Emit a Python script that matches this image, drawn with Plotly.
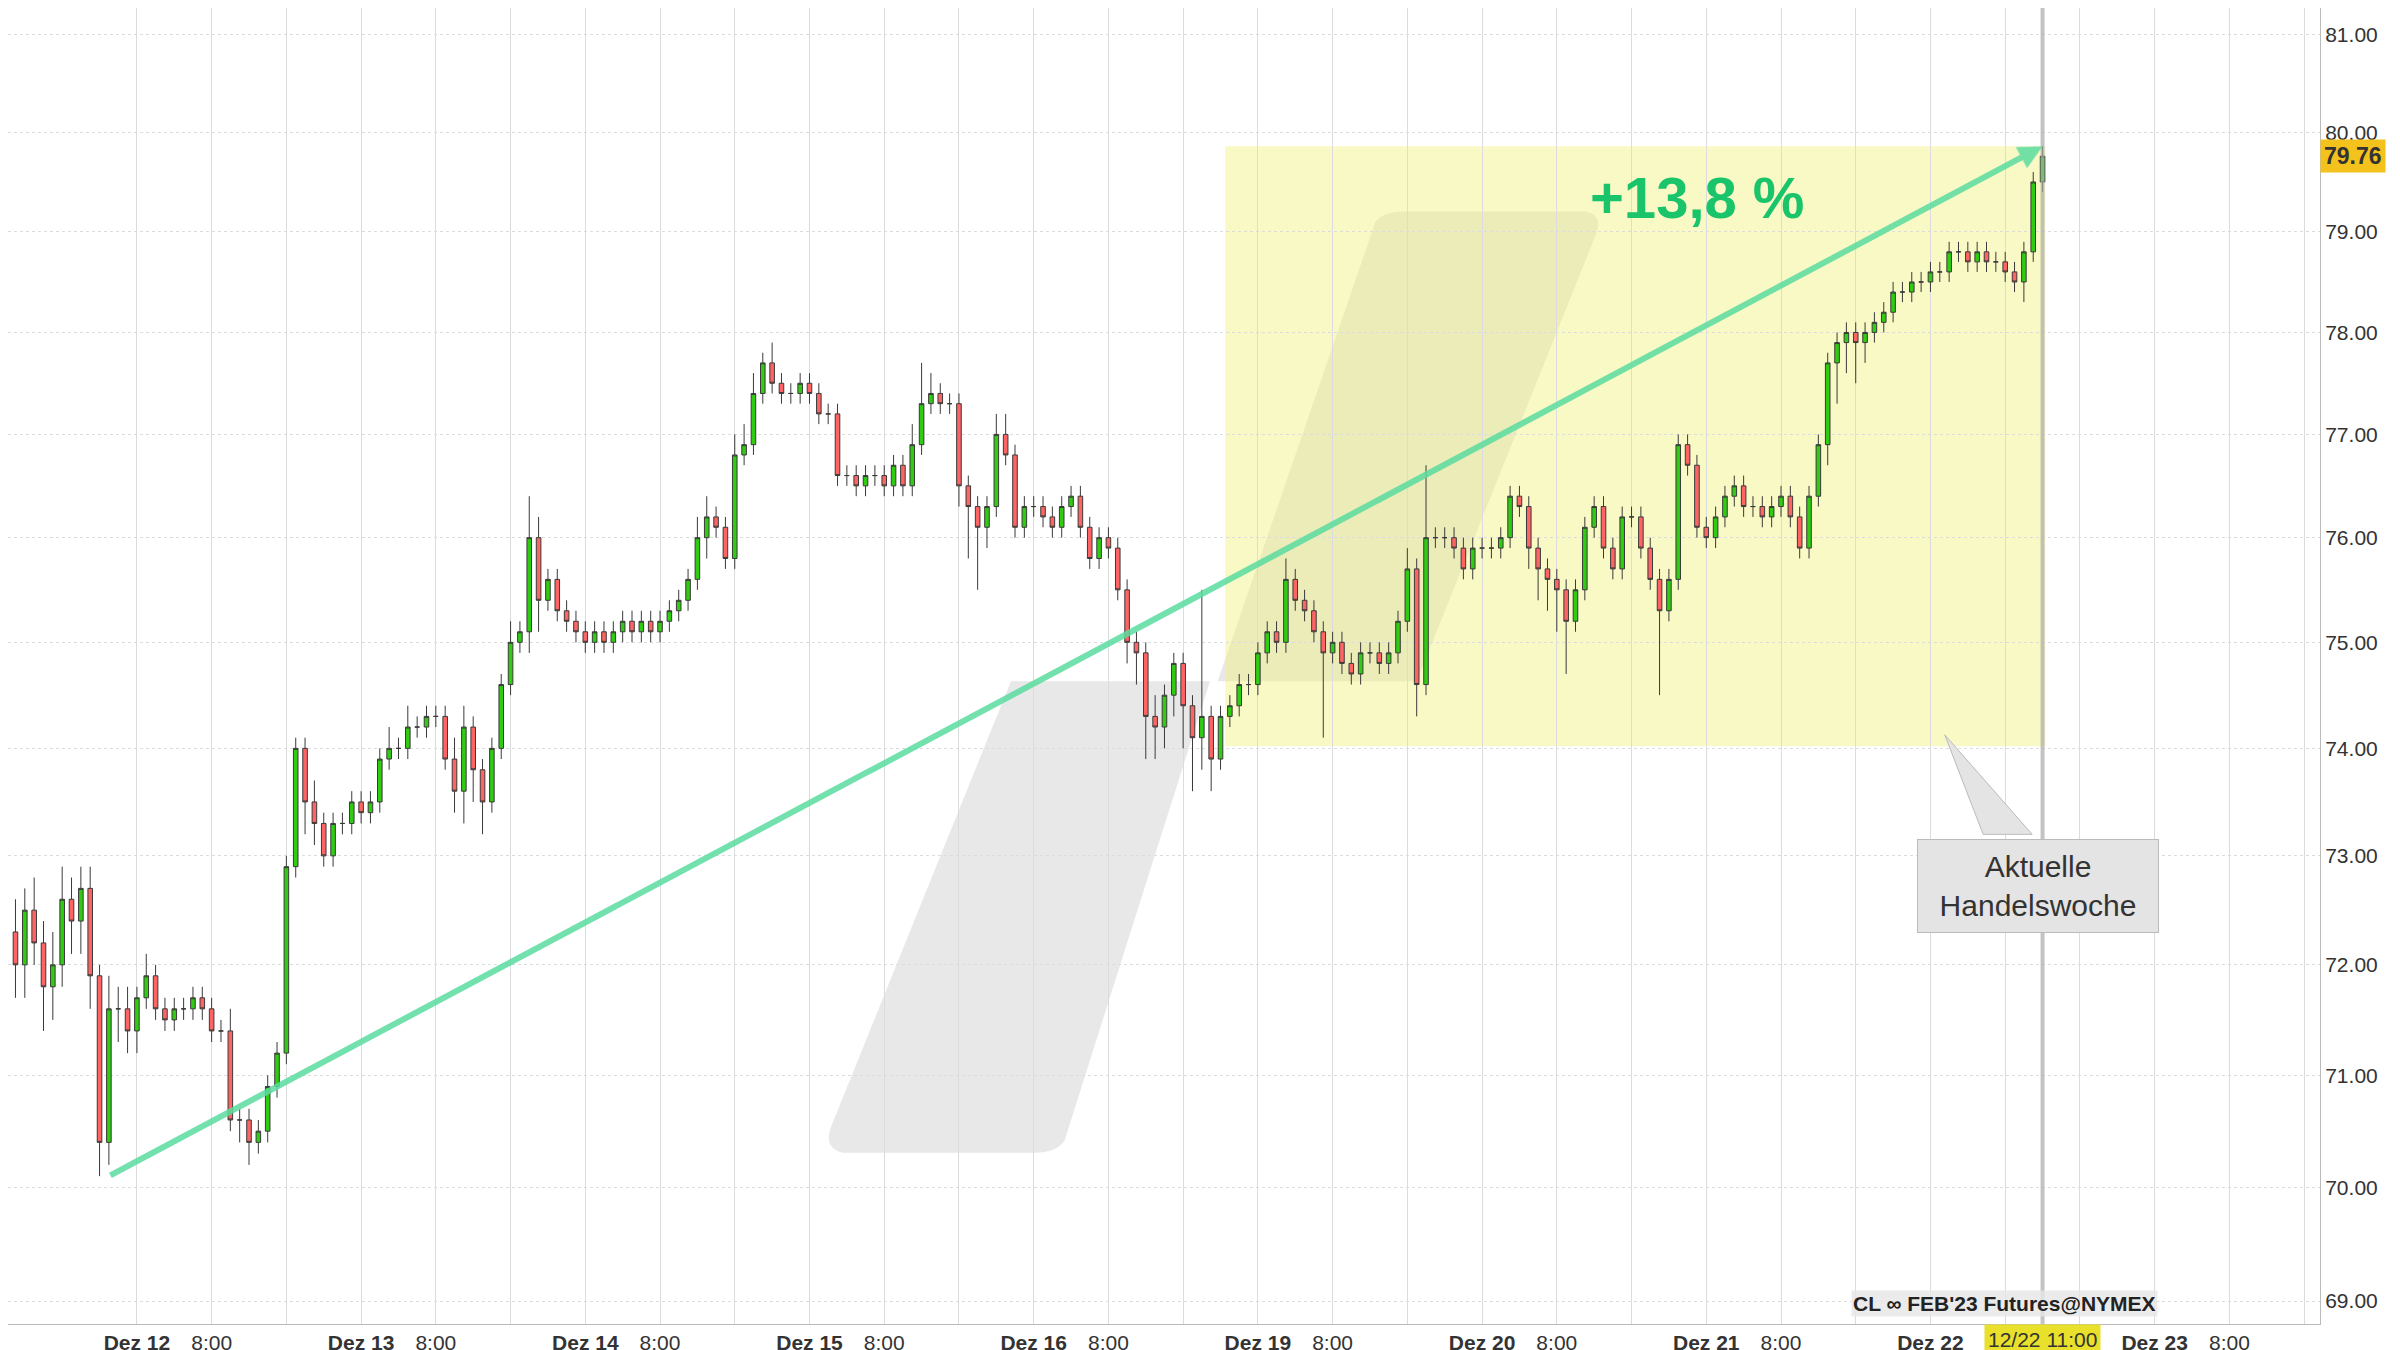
import numpy as np
import plotly.graph_objects as go

closes = [72.0,72.5,72.2,71.8,72.0,72.6,72.4,72.7,71.9,70.4,
 71.6,71.6,71.4,71.7,71.9,71.6,71.5,71.6,71.6,71.7,
 71.6,71.4,71.4,70.6,70.6,70.4,70.5,70.9,71.2,72.9,
 74.0,73.5,73.3,73.0,73.3,73.3,73.5,73.4,73.5,73.9,
 74.0,74.0,74.2,74.2,74.3,74.3,73.9,73.6,74.2,73.8,
 73.5,74.0,74.6,75.0,75.1,76.0,75.4,75.6,75.3,75.2,
 75.1,75.0,75.1,75.0,75.1,75.2,75.1,75.2,75.1,75.2,
 75.3,75.4,75.6,76.0,76.2,76.1,75.8,76.8,76.9,77.4,
 77.7,77.5,77.4,77.4,77.5,77.4,77.2,77.2,76.6,76.6,
 76.5,76.6,76.6,76.5,76.7,76.5,76.9,77.3,77.4,77.3,
 77.3,76.5,76.3,76.1,76.3,77.0,76.8,76.1,76.3,76.3,
 76.2,76.1,76.3,76.4,76.1,75.8,76.0,75.9,75.5,75.0,
 74.9,74.3,74.2,74.5,74.8,74.4,74.1,74.3,73.9,74.3,
 74.4,74.6,74.6,74.9,75.1,75.0,75.6,75.4,75.3,75.1,
 74.9,75.0,74.8,74.7,74.9,74.9,74.8,74.9,75.2,75.7,
 74.6,76.0,76.0,76.0,75.9,75.7,75.9,75.9,75.9,76.0,
 76.4,76.3,75.9,75.7,75.6,75.5,75.2,75.5,76.1,76.3,
 75.9,75.7,76.2,76.2,75.9,75.6,75.3,75.6,76.9,76.7,
 76.1,76.0,76.2,76.4,76.5,76.3,76.3,76.2,76.3,76.4,
 76.2,75.9,76.4,76.9,77.7,77.9,78.0,77.9,78.0,78.1,
 78.2,78.4,78.4,78.5,78.5,78.6,78.6,78.8,78.8,78.7,
 78.8,78.7,78.7,78.6,78.5,78.8,79.5,79.76]
first_open = 72.3
wick_up = [.3,.2,.3,.2,.3,.3,.2,.2,.2,.1,
 .3,.2,.2,.1,.2,.1,.1,.1,.1,.1,
 .1,.1,.1,.2,.1,.1,.1,.1,.1,.1,
 .1,.1,.2,.1,.1,.1,.1,.1,.1,.1,
 .2,.1,.2,.1,.1,.1,.1,.2,.2,.1,
 .1,.1,.1,.2,.1,.4,.2,.1,.1,.1,
 .1,.1,.1,.1,.1,.1,.1,.1,.1,.1,
 .1,.1,.1,.2,.2,.1,.1,.2,.2,.2,
 .1,.2,.1,.1,.1,.1,.1,.1,.1,.1,
 .1,.1,.1,.1,.1,.1,.2,.4,.2,.1,
 .1,.1,.1,.1,.1,.2,.2,.1,.1,.1,
 .1,.1,.1,.1,.1,.1,.1,.1,.1,.1,
 .1,.1,.2,.1,.1,.1,.1,1.2,.1,.1,
 .1,.1,.1,.1,.1,.1,.2,.1,.1,.1,
 .1,.1,.1,.1,.1,.1,.1,.1,.1,.2,
 .1,.7,.1,.1,.1,.1,.1,.1,.1,.1,
 .1,.1,.1,.1,.1,.1,.1,.1,.1,.1,
 .1,.1,.1,.1,.1,.1,.1,.1,.1,.1,
 .1,.1,.1,.1,.1,.1,.1,.1,.1,.1,
 .1,.1,.1,.1,.1,.1,.1,.1,.1,.1,
 .1,.1,.1,.1,.1,.1,.1,.1,.1,.1,
 .1,.1,.1,.1,.1,.1,.1,.1]
wick_dn = [.3,.3,.2,.4,.3,.2,.3,.3,.3,.3,
 .2,.3,.2,.2,.1,.1,.1,.1,.1,.1,
 .1,.1,.1,.1,.2,.2,.1,.1,.1,.1,
 .1,.3,.2,.1,.1,.1,.1,.1,.1,.1,
 .1,.1,.1,.1,.1,.1,.1,.2,.3,.3,
 .3,.1,.1,.1,.1,.2,.3,.1,.1,.1,
 .1,.1,.1,.1,.1,.1,.1,.1,.1,.1,
 .1,.1,.1,.1,.2,.1,.1,.1,.1,.1,
 .1,.1,.1,.1,.1,.1,.1,.1,.1,.1,
 .1,.1,.1,.1,.1,.1,.1,.1,.1,.1,
 .1,.2,.5,.6,.2,.1,.1,.1,.1,.1,
 .1,.1,.1,.1,.1,.1,.1,.1,.1,.2,
 .3,.4,.3,.2,.2,.4,.5,.3,.3,.1,
 .1,.1,.1,.1,.1,.1,.1,.1,.1,.1,
 .8,.1,.1,.1,.1,.1,.1,.1,.1,.1,
 .3,.1,.1,.1,.1,.1,.1,.1,.1,.1,
 .1,.1,.2,.3,.3,.4,.5,.1,.1,.1,
 .1,.1,.1,.1,.1,.1,.8,.1,.1,.1,
 .1,.1,.1,.1,.1,.1,.1,.1,.1,.1,
 .1,.1,.1,.1,.2,.4,.3,.4,.2,.1,
 .1,.1,.1,.1,.1,.1,.1,.1,.1,.1,
 .1,.1,.1,.1,.1,.2,.1,.1]

day_labels = ["Dez 12","Dez 13","Dez 14","Dez 15","Dez 16","Dez 19","Dez 20","Dez 21","Dez 22","Dez 23"]
y_ticks = [69,70,71,72,73,74,75,76,77,78,79,80,81]
last_price = 79.76
last_time_label = "12/22 11:00"
gain_text = "+13,8 %"
symbol_text = "CL ∞ FEB'23 Futures@NYMEX"

n = len(closes)
idx = list(range(n))
opens = [first_open] + closes[:-1]
highs = [max(o, c) + u for o, c, u in zip(opens, closes, wick_up)]
lows = [min(o, c) - d for o, c, d in zip(opens, closes, wick_dn)]

tickvals, ticktext = [-3], [""]
for d, lab in enumerate(day_labels):
    base = 13 + 24 * d
    tickvals += [base, base + 8, base + 16]
    ticktext += [f"<b>{lab}</b>", "8:00", ""]

fig = go.Figure()
fig.add_trace(go.Candlestick(
    x=idx, open=opens, high=highs, low=lows, close=closes,
    increasing=dict(line=dict(color="#3a3a3a", width=1), fillcolor="#2fcc12"),
    decreasing=dict(line=dict(color="#3a3a3a", width=1), fillcolor="#ff6464"),
    whiskerwidth=0, showlegend=False, hoverinfo="skip"))

W, H = 1510.0, 860.0
def P(x, y):
    return f"{x/W:.4f},{1-y/H:.4f}"

shapes = []
shapes.append(dict(type="path", xref="paper", yref="paper", layer="below",
    path=f"M {P(655,440)} L {P(785,440)} L {P(690,740)} Q {P(685,748)} {P(670,748)} L {P(545,748)} Q {P(532,745)} {P(538,730)} Z",
    fillcolor="rgba(150,150,150,0.22)", line=dict(width=0)))
shapes.append(dict(type="path", xref="paper", yref="paper", layer="below",
    path=f"M {P(893,140)} Q {P(898,133)} {P(912,133)} L {P(1030,133)} Q {P(1042,135)} {P(1037,148)} L {P(920,440)} L {P(790,440)} Z",
    fillcolor="rgba(150,150,150,0.22)", line=dict(width=0)))
shapes.append(dict(type="rect", xref="x", yref="y", layer="below",
    x0=129.5, x1=217.3, y0=74.02, y1=79.86,
    fillcolor="rgba(240,240,120,0.42)", line=dict(width=0)))
shapes.append(dict(type="line", xref="x", yref="paper", x0=217, x1=217, y0=0, y1=1,
    line=dict(color="rgba(170,170,170,0.7)", width=4)))
shapes.append(dict(type="path", xref="paper", yref="paper",
    path=f"M {P(1265,475)} L {P(1290,540)} L {P(1322,540)} Z",
    fillcolor="#e4e4e4", line=dict(color="#bbbbbb", width=1)))
fig.update_layout(shapes=shapes)

fig.add_annotation(x=217, y=np.log10(79.86), ax=10, ay=np.log10(70.1),
    xref="x", yref="y", axref="x", ayref="y", text="", showarrow=True,
    arrowhead=2, arrowsize=0.8, arrowwidth=6, arrowcolor="rgba(90,220,160,0.85)")
fig.add_annotation(x=180, y=np.log10(79.0), xref="x", yref="y", text=f"<b>{gain_text}</b>",
    showarrow=False, font=dict(size=58, color="#19c46a", family="Liberation Sans"), yanchor="bottom")
fig.add_annotation(x=(1326-5)/6.1, y=np.log10(72.72), xref="x", yref="y",
    text="Aktuelle<br>Handelswoche", showarrow=False, bgcolor="#e4e4e4",
    bordercolor="#bbbbbb", borderwidth=1, borderpad=10,
    font=dict(size=30, color="#333", family="Liberation Sans"), width=220)
fig.add_annotation(x=1.0, y=np.log10(last_price), xref="paper", yref="y",
    text=f"<b>{last_price:.2f}</b>", showarrow=False, xanchor="left", bgcolor="#f3c21c",
    font=dict(size=23, color="#333", family="Liberation Sans"), borderpad=3)
fig.add_annotation(x=217, y=0, xref="x", yref="paper", text=last_time_label,
    showarrow=False, yanchor="top", bgcolor="#e8e02a",
    font=dict(size=21, color="#333", family="Liberation Sans"), borderpad=3)
fig.add_annotation(x=0.93, y=0.005, xref="paper", yref="paper", text=f"<b>{symbol_text}</b>",
    showarrow=False, xanchor="right", yanchor="bottom", bgcolor="rgba(230,230,230,0.8)",
    font=dict(size=21, color="#222", family="Liberation Sans"))

fig.update_layout(
    width=2400, height=1350, margin=dict(l=0, r=88, t=0, b=34),
    paper_bgcolor="white", plot_bgcolor="white",
    font=dict(family="Liberation Sans", size=21, color="#333"),
    xaxis=dict(range=[-0.8, 246.7], tickvals=tickvals, ticktext=ticktext,
               showgrid=True, gridcolor="#dcdcdc", gridwidth=1, rangeslider=dict(visible=False),
               zeroline=False, ticks="", showline=True, linecolor="#bbb"),
    yaxis=dict(type="log", side="right", range=[np.log10(68.8), np.log10(81.27)],
               tickvals=y_ticks, ticktext=[f"{v:.2f}" for v in y_ticks],
               showgrid=True, gridcolor="#dcdcdc", griddash="dot", zeroline=False,
               showline=True, linecolor="#bbb", ticks=""),
)
fig.write_html("out.html")
